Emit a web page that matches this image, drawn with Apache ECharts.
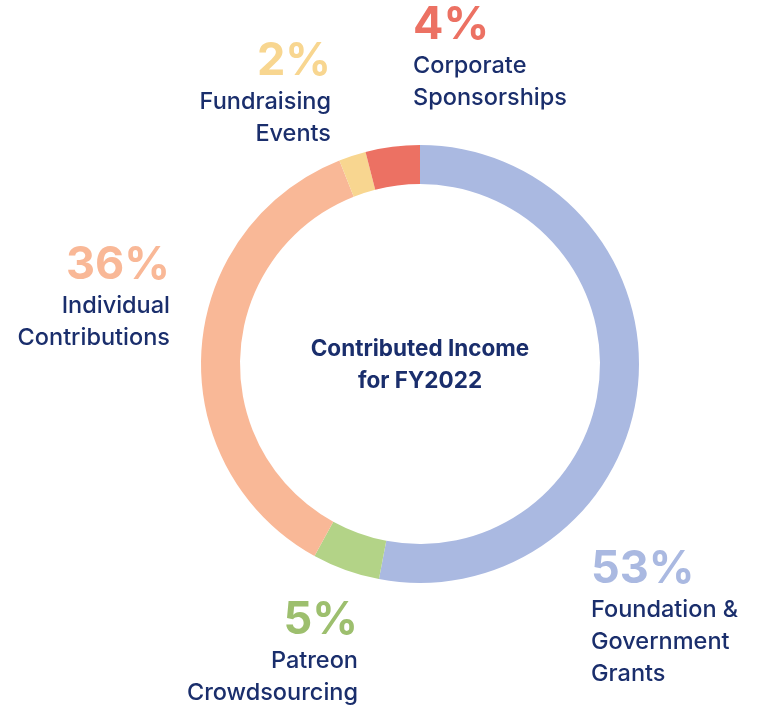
<!DOCTYPE html>
<html>
<head>
<meta charset="utf-8">
<script src="https://cdn.jsdelivr.net/npm/echarts@6/dist/echarts.min.js"></script>
<style>html,body{margin:0;padding:0;background:#fff;}#c{width:761px;height:708px;}</style>
</head>
<body>
<div id="c"></div>
<script>
const categories = ['Foundation & Government Grants', 'Patreon Crowdsourcing', 'Individual Contributions', 'Fundraising Events', 'Corporate Sponsorships'];
const labelLines = [['Foundation &', 'Government', 'Grants'], ['Patreon', 'Crowdsourcing'], ['Individual', 'Contributions'], ['Fundraising', 'Events'], ['Corporate', 'Sponsorships']];
const values = [53, 5, 36, 2, 4];
const colors = ['#AAB9E1', '#B3D387', '#F9B897', '#F8D690', '#EC7163'];
const pctColors = ['#AAB9E1', '#9DBF6E', '#F9B897', '#F8D690', '#EC7163'];
const title = ['Contributed Income', 'for FY2022'];

const navy = '#1A2E6C';
const font = 'Inter, "Noto Sans", sans-serif';
// label anchor: [x, percent center y, align]
const anchors = [[591, 569, 'left'], [358, 620, 'right'], [170, 265, 'right'], [331, 61, 'right'], [413, 25, 'left']];

const graphics = [];
values.forEach((v, i) => {
  const [x, y, align] = anchors[i];
  graphics.push({type: 'text', x: x, y: y, style: {text: v + '%', fill: pctColors[i], font: '700 45px ' + font, textAlign: align, textVerticalAlign: 'middle'}});
  labelLines[i].forEach((ln, j) => {
    graphics.push({type: 'text', x: x, y: y + 41 + j * 32, style: {text: ln, fill: navy, font: '500 23.5px ' + font, textAlign: align, textVerticalAlign: 'middle'}});
  });
});
title.forEach((t, j) => {
  graphics.push({type: 'text', x: 420, y: 349 + j * 32, style: {text: t, fill: navy, font: '700 22.5px ' + font, textAlign: 'center', textVerticalAlign: 'middle'}});
});

const chart = echarts.init(document.getElementById('c'));
chart.setOption({
  animation: false,
  backgroundColor: '#fff',
  graphic: graphics,
  series: [{
    type: 'pie',
    center: [420, 364],
    radius: [180, 219],
    startAngle: 90,
    clockwise: true,
    silent: true,
    label: {show: false},
    labelLine: {show: false},
    itemStyle: {borderWidth: 0},
    data: values.map((v, i) => ({name: categories[i], value: v, itemStyle: {color: colors[i]}}))
  }]
});
</script>
</body>
</html>
